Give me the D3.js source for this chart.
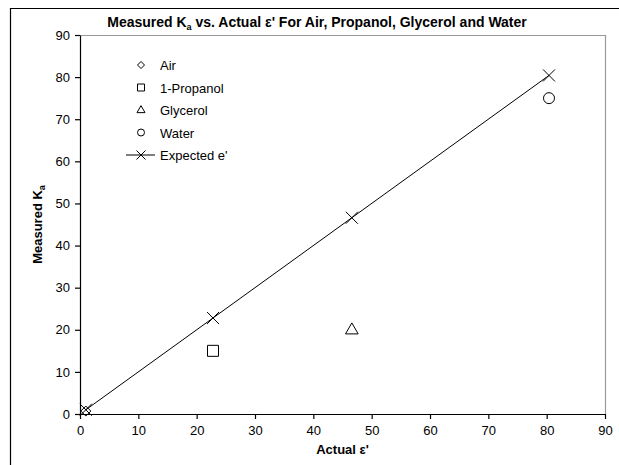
<!DOCTYPE html>
<html>
<head>
<meta charset="utf-8">
<script src="https://cdn.jsdelivr.net/npm/d3@7"></script>
<style>
  body { margin: 0; background: #fff; }
  svg text { font-family: "Liberation Sans", Arial, sans-serif; fill: #000; }
</style>
</head>
<body>
<div id="graf"></div>
<script>
// datos
const series = ["Air", "1-Propanol", "Glycerol", "Water"]
const actualE = [1.0, 22.8, 46.6, 80.4]
const measuredKa = [0.7, 15.0, 20.0, 75.0]
const expectedE = [1.0, 22.8, 46.6, 80.4]
const xTicks = [0, 10, 20, 30, 40, 50, 60, 70, 80, 90]
const yTicks = [0, 10, 20, 30, 40, 50, 60, 70, 80, 90]

const anchoTotal = 619
const altoTotal = 465
const margins = { top: 35, right: 14, bottom: 51, left: 80 }
const ancho = anchoTotal - margins.left - margins.right
const alto = altoTotal - margins.top - margins.bottom

const svg = d3.select("#graf")
  .append("svg")
  .attr("width", anchoTotal)
  .attr("height", altoTotal)

// marco exterior
svg.append("path")
  .attr("d", `M10.5,${altoTotal} V8.5 H${anchoTotal}`)
  .attr("fill", "none")
  .attr("stroke", "#000")
  .attr("stroke-width", 1.2)

const x = d3.scaleLinear().domain([0, 90]).range([0, ancho])
const y = d3.scaleLinear().domain([0, 90]).range([alto, 0])

const chart = svg.append("g")
  .attr("transform", `translate(${margins.left}, ${margins.top})`)

// borde superior y derecho gris
chart.append("path")
  .attr("d", `M0,0.5 H${ancho + 0.5} V${alto}`)
  .attr("fill", "none")
  .attr("stroke", "#999")
  .attr("stroke-width", 1.2)

const xAxis = d3.axisBottom(x).tickValues(xTicks).tickSize(5).tickSizeOuter(0)
const yAxis = d3.axisLeft(y).tickValues(yTicks).tickSize(5).tickSizeOuter(0)

const xg = chart.append("g")
  .attr("transform", `translate(0, ${alto})`)
  .call(xAxis)
xg.selectAll("text").attr("dy", "1.0em").style("font-size", "13px")

const yg = chart.append("g").call(yAxis)
yg.selectAll("text").attr("dx", "-0.15em").style("font-size", "13px")

chart.selectAll(".domain, .tick line").attr("stroke", "#000").attr("stroke-width", 1.2)

// línea esperada
const line = d3.line()
  .x((d) => x(d))
  .y((d) => y(d))

chart.append("path")
  .datum(expectedE)
  .attr("d", line)
  .attr("fill", "none")
  .attr("stroke", "#000")
  .attr("stroke-width", 1)

const cross = (s) => `M${-s},${-s} L${s},${s} M${-s},${s} L${s},${-s}`
const shapes = {
  "Air": (s) => `M0,${-s} L${s},0 L0,${s} L${-s},0 Z`,
  "1-Propanol": (s) => `M${-s},${-s} H${s} V${s} H${-s} Z`,
  "Glycerol": (s) => `M0,${-s * 1.25} L${s * 1.15},${s * 0.75} L${-s * 1.15},${s * 0.75} Z`,
  "Water": (s) => `M${s},0 A${s},${s} 0 1,1 ${-s},0 A${s},${s} 0 1,1 ${s},0 Z`
}
const sizes = { "Air": 5, "1-Propanol": 5.5, "Glycerol": 5.5, "Water": 5.5 }

chart.selectAll(".esperado")
  .data(expectedE)
  .join("path")
  .attr("class", "esperado")
  .attr("transform", (d) => `translate(${x(d)}, ${y(d)})`)
  .attr("d", cross(6))
  .attr("fill", "none")
  .attr("stroke", "#000")
  .attr("stroke-width", 1)

chart.selectAll(".medido")
  .data(series)
  .join("path")
  .attr("class", "medido")
  .attr("transform", (d, i) => `translate(${x(actualE[i])}, ${y(measuredKa[i])})`)
  .attr("d", (d) => shapes[d](sizes[d]))
  .attr("fill", "none")
  .attr("stroke", "#000")
  .attr("stroke-width", 1)

// leyenda
const legend = svg.append("g").attr("transform", "translate(141, 65)")
const rowH = 22.5
series.forEach((s, i) => {
  const g = legend.append("g").attr("transform", `translate(0, ${i * rowH})`)
  g.append("path")
    .attr("d", shapes[s](3.5))
    .attr("fill", "none")
    .attr("stroke", "#000")
  g.append("text")
    .attr("x", 19)
    .attr("y", 5)
    .style("font-size", "13px")
    .text(s)
})
const lg = legend.append("g").attr("transform", `translate(0, ${4 * rowH})`)
lg.append("line").attr("x1", -15).attr("x2", 14).attr("stroke", "#000")
lg.append("path").attr("d", cross(4.5)).attr("fill", "none").attr("stroke", "#000")
lg.append("text").attr("x", 19).attr("y", 5).style("font-size", "13px").text("Expected e'")

// título
const title = svg.append("text")
  .attr("x", 317)
  .attr("y", 27)
  .attr("text-anchor", "middle")
  .style("font-size", "14px")
  .style("font-weight", "bold")
title.append("tspan").text("Measured K")
title.append("tspan").attr("dy", 3).style("font-size", "9px").text("a")
title.append("tspan").attr("dy", -3).text(" vs. Actual ε' For Air, Propanol, Glycerol and Water")

// ejes: etiquetas
const xl = svg.append("text")
  .attr("x", margins.left + ancho / 2)
  .attr("y", 454)
  .attr("text-anchor", "middle")
  .style("font-size", "13px")
  .style("font-weight", "bold")
  .text("Actual ε'")

const yl = svg.append("text")
  .attr("transform", `translate(42, ${margins.top + alto / 2}) rotate(-90)`)
  .attr("text-anchor", "middle")
  .style("font-size", "13px")
  .style("font-weight", "bold")
yl.append("tspan").text("Measured K")
yl.append("tspan").attr("dy", 3).style("font-size", "9px").text("a")
</script>
</body>
</html>
